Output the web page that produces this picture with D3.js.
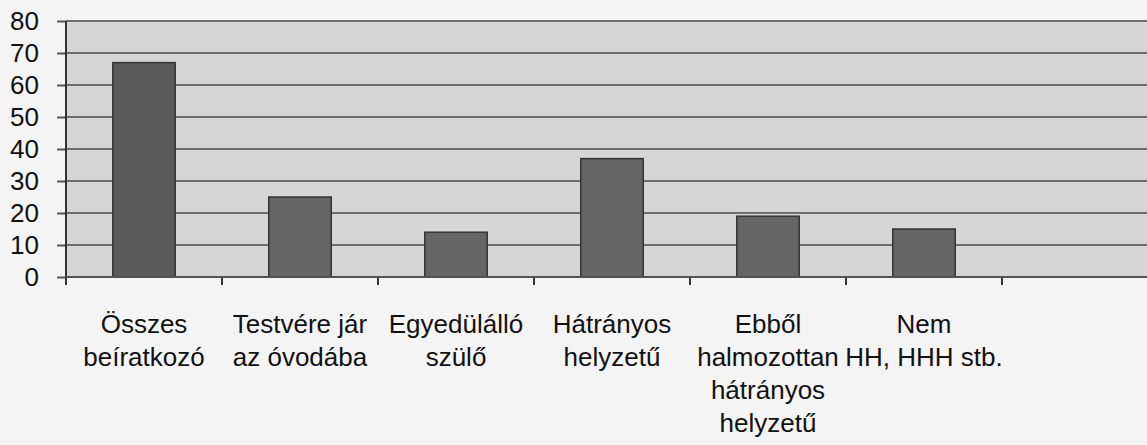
<!DOCTYPE html>
<html>
<head>
<meta charset="utf-8">
<script src="https://cdn.jsdelivr.net/npm/d3@7"></script>
<style>
  html, body { margin: 0; padding: 0; background: #f4f4f4; }
  svg { display: block; }
  text { font-family: "Liberation Sans", Arial, sans-serif; fill: #111; }
</style>
</head>
<body>
<svg id="chart" width="1147" height="445"></svg>
<script>
// ---- data ----
const categories = ["Összes beíratkozó", "Testvére jár az óvodába", "Egyedülálló szülő",
  "Hátrányos helyzetű", "Ebből halmozottan hátrányos helyzetű", "Nem HH, HHH stb.", ""];
const labelLines = [
  ["Összes", "beíratkozó"],
  ["Testvére jár", "az óvodába"],
  ["Egyedülálló", "szülő"],
  ["Hátrányos", "helyzetű"],
  ["Ebből", "halmozottan", "hátrányos", "helyzetű"],
  ["Nem", "HH, HHH stb."],
  []
];
const values = [67, 25, 14, 37, 19, 15];
const yTicks = [0, 10, 20, 30, 40, 50, 60, 70, 80];

// ---- layout ----
const svg = d3.select("#chart");
const pLeft = 66, pTop = 21, pBottom = 277, pRight = 1158;

const x = d3.scaleBand().domain(categories).range([pLeft, pRight])
  .paddingInner(0.6).paddingOuter(0.3);
const y = d3.scaleLinear().domain([0, 80]).range([pBottom, pTop]);

// plot area background
svg.append("rect").attr("x", pLeft).attr("y", pTop)
  .attr("width", pRight - pLeft).attr("height", pBottom - pTop)
  .attr("fill", "#d6d6d6");

// y axis ticks and labels
const yAxisG = svg.append("g").attr("transform", `translate(${pLeft},0)`)
  .call(d3.axisLeft(y).tickValues(yTicks).tickSize(9).tickFormat(d => d).tickPadding(18));
yAxisG.select(".domain").remove();
yAxisG.selectAll(".tick line").attr("stroke", "#555").attr("stroke-width", 2);
yAxisG.selectAll(".tick text").attr("font-size", 26).attr("fill", "#111");

// gridlines
svg.append("g").attr("transform", `translate(${pLeft},0)`)
  .selectAll("line").data(yTicks).join("line")
  .attr("x1", 0).attr("x2", pRight - pLeft)
  .attr("y1", d => y(d)).attr("y2", d => y(d))
  .attr("stroke", "#6e6e6e").attr("stroke-width", 2);

// bars
svg.append("g").selectAll("rect").data(values).join("rect")
  .attr("x", (d, i) => x(categories[i]))
  .attr("y", d => y(d))
  .attr("width", x.bandwidth())
  .attr("height", d => y(0) - y(d))
  .attr("fill", (d, i) => i === 0 ? "#5a5a5a" : "#666666")
  .attr("stroke", "#333")
  .attr("stroke-width", 1.5);

// y axis line
svg.append("line").attr("x1", pLeft).attr("x2", pLeft).attr("y1", pTop).attr("y2", pBottom + 8)
  .attr("stroke", "#333").attr("stroke-width", 2);

// x axis ticks at band boundaries
const step = x.step();
const boundaries = categories.map((c, i) => pLeft + i * step);
svg.append("g").selectAll("line").data(boundaries).join("line")
  .attr("x1", d => d).attr("x2", d => d).attr("y1", pBottom).attr("y2", pBottom + 8)
  .attr("stroke", "#333").attr("stroke-width", 2);
svg.append("line").attr("x1", pLeft).attr("x2", pRight).attr("y1", pBottom).attr("y2", pBottom)
  .attr("stroke", "#555").attr("stroke-width", 2);

// x labels
const lbl = svg.append("g");
categories.forEach((c, i) => {
  const cx = x(c) + x.bandwidth() / 2;
  const t = lbl.append("text").attr("text-anchor", "middle").attr("font-size", 26);
  labelLines[i].forEach((ln, j) => {
    t.append("tspan").attr("x", cx).attr("y", 333 + j * 33).text(ln);
  });
});
</script>
</body>
</html>
